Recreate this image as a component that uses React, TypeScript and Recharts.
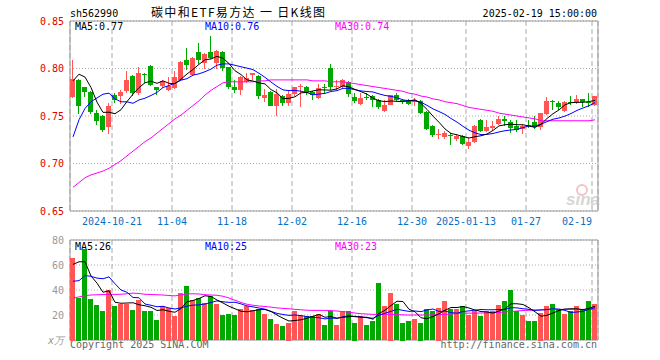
import React from 'react';
import { ComposedChart, Bar, Line, XAxis, YAxis, CartesianGrid, ReferenceArea } from 'recharts';

// daily candles, 88 sessions (2024-10-11 .. 2025-02-19)
const opens = [
  0.770, 0.788, 0.780, 0.775, 0.753, 0.750, 0.738, 0.772, 0.771, 0.776,
  0.792, 0.774, 0.794, 0.803, 0.780, 0.782, 0.777, 0.779, 0.788, 0.809,
  0.793, 0.817, 0.806, 0.817, 0.806, 0.817, 0.802, 0.781, 0.777, 0.786,
  0.793, 0.792, 0.769, 0.775, 0.761, 0.771, 0.764, 0.773, 0.781, 0.781,
  0.775, 0.769, 0.780, 0.800, 0.781, 0.780, 0.786, 0.770, 0.763, 0.770,
  0.771, 0.767, 0.755, 0.762, 0.772, 0.767, 0.766, 0.765, 0.766, 0.754,
  0.740, 0.730, 0.728, 0.730, 0.726, 0.729, 0.718, 0.723, 0.746, 0.734,
  0.737, 0.742, 0.747, 0.744, 0.740, 0.736, 0.741, 0.744, 0.738, 0.752,
  0.766, 0.764, 0.755, 0.765, 0.764, 0.768, 0.765, 0.762,
];
const highs = [
  0.809, 0.789, 0.781, 0.776, 0.756, 0.751, 0.764, 0.774, 0.777, 0.797,
  0.793, 0.802, 0.795, 0.804, 0.780, 0.788, 0.791, 0.797, 0.808, 0.822,
  0.812, 0.827, 0.816, 0.834, 0.819, 0.818, 0.802, 0.788, 0.792, 0.795,
  0.795, 0.793, 0.778, 0.776, 0.778, 0.772, 0.777, 0.781, 0.784, 0.782,
  0.776, 0.784, 0.784, 0.805, 0.788, 0.789, 0.787, 0.774, 0.774, 0.774,
  0.772, 0.768, 0.767, 0.772, 0.774, 0.768, 0.768, 0.769, 0.767, 0.755,
  0.741, 0.736, 0.734, 0.732, 0.731, 0.730, 0.728, 0.741, 0.747, 0.746,
  0.745, 0.750, 0.750, 0.746, 0.746, 0.742, 0.746, 0.750, 0.753, 0.770,
  0.767, 0.766, 0.766, 0.771, 0.772, 0.768, 0.774, 0.771,
];
const lows = [
  0.769, 0.752, 0.771, 0.752, 0.740, 0.733, 0.731, 0.764, 0.762, 0.774,
  0.771, 0.773, 0.784, 0.782, 0.772, 0.780, 0.776, 0.778, 0.788, 0.799,
  0.792, 0.805, 0.799, 0.810, 0.799, 0.797, 0.779, 0.774, 0.772, 0.784,
  0.788, 0.768, 0.764, 0.760, 0.750, 0.760, 0.760, 0.772, 0.760, 0.773,
  0.767, 0.768, 0.774, 0.778, 0.777, 0.778, 0.770, 0.764, 0.761, 0.767,
  0.759, 0.758, 0.754, 0.761, 0.766, 0.763, 0.762, 0.761, 0.752, 0.735,
  0.728, 0.725, 0.726, 0.719, 0.724, 0.720, 0.715, 0.722, 0.733, 0.733,
  0.735, 0.741, 0.739, 0.732, 0.733, 0.732, 0.738, 0.736, 0.735, 0.751,
  0.756, 0.757, 0.754, 0.762, 0.763, 0.760, 0.759, 0.761,
];
const closes = [
  0.789, 0.760, 0.775, 0.754, 0.745, 0.735, 0.761, 0.767, 0.775, 0.788,
  0.774, 0.795, 0.793, 0.783, 0.777, 0.787, 0.782, 0.791, 0.807, 0.804,
  0.811, 0.809, 0.815, 0.811, 0.818, 0.801, 0.781, 0.777, 0.791, 0.790,
  0.795, 0.771, 0.772, 0.761, 0.773, 0.764, 0.773, 0.780, 0.782, 0.775,
  0.772, 0.779, 0.779, 0.781, 0.782, 0.788, 0.773, 0.766, 0.769, 0.769,
  0.767, 0.759, 0.762, 0.772, 0.767, 0.766, 0.763, 0.767, 0.753, 0.736,
  0.730, 0.731, 0.732, 0.729, 0.729, 0.721, 0.723, 0.739, 0.734, 0.738,
  0.740, 0.747, 0.745, 0.737, 0.735, 0.740, 0.740, 0.738, 0.753, 0.766,
  0.765, 0.760, 0.765, 0.764, 0.768, 0.765, 0.764, 0.771,
];

const ma5 = [
  0.787, 0.794, 0.791, 0.780, 0.7646, 0.7538, 0.754, 0.7524, 0.7566, 0.7652,
  0.773, 0.7798, 0.785, 0.7866, 0.7844, 0.787, 0.7844, 0.784, 0.7888, 0.7942,
  0.799, 0.8044, 0.8092, 0.810, 0.8128, 0.8108, 0.8052, 0.7976, 0.7936, 0.788,
  0.7868, 0.7848, 0.7838, 0.7778, 0.7744, 0.7682, 0.7686, 0.7702, 0.7744, 0.7748,
  0.7764, 0.7776, 0.7774, 0.7772, 0.7786, 0.7818, 0.7806, 0.778, 0.7756, 0.773,
  0.7688, 0.766, 0.7652, 0.7658, 0.7654, 0.7652, 0.766, 0.767, 0.7632, 0.757,
  0.7498, 0.7434, 0.7364, 0.7316, 0.7302, 0.7284, 0.7268, 0.7282, 0.7292, 0.731,
  0.7348, 0.7396, 0.7408, 0.7414, 0.7408, 0.7408, 0.7394, 0.738, 0.7412, 0.7474,
  0.7524, 0.7564, 0.7618, 0.764, 0.7644, 0.7644, 0.7652, 0.7664,
];
const ma10 = [
  0.728, 0.746, 0.758, 0.765, 0.769, 0.773, 0.774, 0.768, 0.765, 0.7649,
  0.7634, 0.7669, 0.7687, 0.7716, 0.7748, 0.780, 0.7821, 0.7845, 0.7877, 0.7893,
  0.793, 0.7944, 0.7966, 0.7994, 0.8035, 0.8049, 0.8048, 0.8034, 0.8018, 0.8004,
  0.7988, 0.795, 0.7907, 0.7857, 0.7812, 0.7775, 0.7767, 0.777, 0.7761, 0.7746,
  0.7723, 0.7731, 0.7738, 0.7758, 0.7767, 0.7791, 0.7791, 0.7777, 0.7764, 0.7758,
  0.7753, 0.7733, 0.7716, 0.7707, 0.7692, 0.767, 0.766, 0.7661, 0.7645, 0.7612,
  0.7575, 0.7547, 0.7517, 0.7474, 0.7436, 0.7391, 0.7351, 0.7323, 0.7304, 0.7306,
  0.7316, 0.7332, 0.7345, 0.7353, 0.7359, 0.7378, 0.7395, 0.7394, 0.7413, 0.7441,
  0.7466, 0.7479, 0.7499, 0.7526, 0.7559, 0.7584, 0.7608, 0.7641,
];
const ma30 = [
  0.675, 0.680, 0.685, 0.688, 0.690, 0.692, 0.695, 0.699, 0.703, 0.708,
  0.713, 0.718, 0.723, 0.727, 0.732, 0.737, 0.742, 0.747, 0.751, 0.756,
  0.761, 0.766, 0.772, 0.777, 0.781, 0.785, 0.786, 0.786, 0.786, 0.786,
  0.786, 0.787, 0.787, 0.788, 0.788, 0.788, 0.788, 0.788, 0.788, 0.788,
  0.787, 0.787, 0.787, 0.786, 0.786, 0.786, 0.785, 0.784, 0.783, 0.782,
  0.781, 0.780, 0.779, 0.778, 0.777, 0.776, 0.774, 0.773, 0.771, 0.770,
  0.768, 0.767, 0.765, 0.764, 0.763, 0.761, 0.759, 0.758, 0.757, 0.756,
  0.755, 0.753, 0.752, 0.751, 0.750, 0.749, 0.748, 0.747, 0.745, 0.745,
  0.745, 0.745, 0.745, 0.745, 0.745, 0.745, 0.745, 0.746,
];

// volume, 万手
const volumes = [
  66, 34, 73, 33, 28, 23, 40, 27, 29, 29,
  24, 32, 23, 23, 16, 27, 26, 19, 38, 43,
  32, 34, 30, 35, 29, 20, 21, 20, 25, 27,
  24, 25, 21, 17, 13, 11, 14, 23, 20, 19,
  19, 21, 12, 23, 12, 23, 23, 14, 19, 12,
  15, 46, 27, 38, 29, 14, 15, 17, 14, 25,
  23, 26, 31, 25, 25, 27, 20, 23, 19, 23,
  23, 28, 31, 40, 23, 20, 15, 15, 22, 27,
  29, 25, 21, 23, 27, 25, 31, 29,
];
const volMa5 = [
  60.5, 62.6, 62.6, 51.2, 45.5, 38.2, 39.4, 30.2, 29.4, 29.6,
  29.8, 28.2, 27.4, 26.2, 23.6, 24.2, 23, 22.2, 25.2, 30.6,
  31.6, 33.2, 35.4, 34.8, 32, 29.6, 27, 25, 23, 22.6,
  23.4, 24.2, 24.4, 22.8, 20, 17.4, 15.2, 15.6, 16.2, 17.4,
  19, 20.4, 18.2, 18.8, 17.4, 18.2, 18.6, 19, 18.2, 18.2,
  16.6, 21.2, 23.8, 27.6, 31, 30.8, 24.6, 22.6, 17.8, 17,
  18.8, 21, 23.8, 26, 26, 26.8, 25.6, 24, 22.8, 22.4,
  21.6, 23.2, 24.8, 29, 29, 28.4, 25.8, 22.6, 19, 19.8,
  21.6, 23.6, 24.8, 25, 25, 24.2, 25.4, 27,
];
const volMa10 = [
  47, 47.5, 51.5, 51, 49.5, 49, 50.5, 45, 40, 38.2,
  34, 33.8, 28.8, 27.8, 26.6, 27, 25.6, 24.8, 25.7, 27.1,
  27.9, 28.1, 28.8, 30, 31.3, 30.6, 30.1, 30.2, 28.9, 27.3,
  26.5, 25.6, 24.7, 22.9, 21.3, 20.4, 19.7, 20, 19.5, 18.7,
  18.2, 17.8, 16.9, 17.5, 17.4, 18.6, 19.5, 18.6, 18.5, 17.8,
  17.4, 19.9, 21.4, 22.9, 24.6, 23.7, 22.9, 23.2, 22.7, 24,
  24.8, 22.8, 23.2, 21.9, 21.5, 22.8, 23.3, 23.9, 24.4, 24.2,
  24.2, 24.4, 24.4, 25.9, 25.7, 25, 24.5, 23.7, 24, 24.4,
  25, 24.7, 23.7, 22, 22.4, 22.9, 24.5, 25.9,
];
const volMa30 = [
  33.5, 34.5, 35.5, 36, 36.2, 36.4, 36.5, 36.5, 36.6, 37,
  37.5, 37.2, 36.6, 36.4, 36.2, 36, 35.6, 35.3, 36.2, 36.8,
  37, 36.8, 36.2, 36, 35.8, 35, 33.6, 31.8, 30, 28.6,
  27.8, 27.2, 26.8, 26.3, 25.7, 25.3, 25, 24.5, 24.2, 23.8,
  23.7, 23.7, 23.7, 23.5, 23.2, 22.7, 22.2, 21.6, 21, 20.8,
  20.5, 20.5, 20.5, 20.5, 20.3, 20.1, 20, 20, 20, 20,
  20.1, 20.3, 20.5, 20.8, 21.2, 21.4, 21.5, 21.5, 21.6, 21.6,
  21.8, 22.1, 22.4, 22.8, 23.2, 23.6, 23.8, 24, 24.2, 24.3,
  24.4, 24.5, 24.5, 24.5, 24.5, 24.5, 24.5, 24.5,
];

const tickSlots = [7, 17, 27, 37, 47, 57, 66, 76, 87];
const tickLabels = ['2024-10-21', '11-04', '11-18', '12-02', '12-16', '12-30', '2025-01-13', '01-27', '02-19'];
const priceTicks = [0.65, 0.7, 0.75, 0.8, 0.85];
const volTicks = [0, 20, 40, 60, 80];

const UP = '#ff5555';
const DOWN = '#00a800';
const MONO = '"DejaVu Sans Mono", "Liberation Mono", monospace';
const GRID = '#aaaaaa';
const BORDER = '#999999';

const rows = closes.map((c, i) => ({
  x: i + 0.5,
  range: [lows[i], highs[i]],
  open: opens[i],
  high: highs[i],
  low: lows[i],
  close: c,
  volume: volumes[i],
  ma5: ma5[i],
  ma10: ma10[i],
  ma30: ma30[i],
  vma5: volMa5[i],
  vma10: volMa10[i],
  vma30: volMa30[i],
}));

function Candle(props: any) {
  const { x, y, height, payload } = props;
  const { open, close, high, low } = payload;
  const color = close >= open ? UP : DOWN;
  const top = Math.min(y, y + height);
  const h = Math.abs(height);
  const left = Math.floor(x);
  const py = (v: number) => (high === low ? top : top + ((high - v) / (high - low)) * h);
  const bTop = Math.round(py(Math.max(open, close)));
  const bBot = Math.round(py(Math.min(open, close)));
  return (
    <g>
      <rect x={left + 2} y={Math.round(top)} width={1} height={Math.max(1, Math.round(h))} fill={color} />
      <rect x={left} y={bTop} width={5} height={Math.max(1, bBot - bTop)} fill={color} />
    </g>
  );
}

function VolBar(props: any) {
  const { x, y, height, payload } = props;
  const color = payload.close >= payload.open ? UP : DOWN;
  const top = Math.min(y, y + height);
  return <rect x={Math.floor(x)} y={Math.round(top)} width={5} height={Math.round(Math.abs(height))} fill={color} />;
}

function DateTick(props: any) {
  const { x, y, payload } = props;
  const k = tickSlots.indexOf(payload.value);
  const last = k === tickSlots.length - 1;
  return (
    <text x={x} y={y} dy={7} textAnchor={last ? 'end' : 'middle'} fill="#0a70c4" fontSize={10} fontFamily={MONO}>
      {tickLabels[k]}
    </text>
  );
}

function VolTick(props: any) {
  const { x, y, payload } = props;
  const zero = payload.value === 0;
  return (
    <text x={x} y={y} dy={3.5} textAnchor="end" fill="#999" fontSize={10} fontFamily={MONO} fontStyle={zero ? 'italic' : 'normal'}>
      {zero ? 'x万' : payload.value}
    </text>
  );
}

export default function App() {
  return (
    <div style={{ position: 'absolute', left: 0, top: 0, width: 660, height: 360, background: '#fff' }}>
      <div style={{ position: 'absolute', left: 0, top: 0 }}>
        <ComposedChart width={660} height={230} data={rows} margin={{ top: 21, right: 62, bottom: 0, left: 0 }}>
          <CartesianGrid vertical={false} stroke={GRID} strokeDasharray="1 2" />
          <CartesianGrid horizontal={false} stroke={GRID} strokeDasharray="5 3" />
          <XAxis
            type="number"
            dataKey="x"
            domain={[0, 88]}
            ticks={tickSlots}
            interval={0}
            tick={<DateTick />}
            axisLine={false}
            tickLine={false}
            tickSize={4}
            tickMargin={3}
            height={19}
          />
          <YAxis
            domain={[0.65, 0.85]}
            ticks={priceTicks}
            width={70}
            axisLine={false}
            tickLine={false}
            tickSize={4}
            tickMargin={2}
            tickFormatter={(v: number) => v.toFixed(2)}
            tick={{ fill: '#e00000', fontSize: 10, fontFamily: MONO }}
          />
          <Bar dataKey="range" barSize={5} shape={<Candle />} isAnimationActive={false} />
          <Line dataKey="ma30" stroke="#ff00ff" strokeWidth={1} dot={false} isAnimationActive={false} />
          <Line dataKey="ma10" stroke="#0000ff" strokeWidth={1} dot={false} isAnimationActive={false} />
          <Line dataKey="ma5" stroke="#000000" strokeWidth={1} dot={false} isAnimationActive={false} />
          <ReferenceArea x1={0} x2={88} y1={0.65} y2={0.85} fill="none" stroke={BORDER} strokeWidth={1} ifOverflow="visible" />
          <text x={70} y={17} fontSize={10} fontFamily={MONO} fill="#000">sh562990</text>
          <text x={151} y={17} fontSize={12} fontFamily='"Noto Sans CJK SC", sans-serif' fill="#000" textLength={174} lengthAdjust="spacing">
            碳中和ETF易方达 一 日K线图
          </text>
          <text x={597} y={17} fontSize={10} fontFamily={MONO} fill="#000" textAnchor="end">2025-02-19 15:00:00</text>
          <text x={75} y={30} fontSize={10} fontFamily={MONO} fill="#000">MA5:0.77</text>
          <text x={205} y={30} fontSize={10} fontFamily={MONO} fill="#0000ff">MA10:0.76</text>
          <text x={335} y={30} fontSize={10} fontFamily={MONO} fill="#ff00ff">MA30:0.74</text>
          <circle cx={582} cy={190} r={5} fill="none" stroke="#f2c4c4" strokeWidth={2} />
          <text x={566} y={205} fontSize={17} fontStyle="italic" fontWeight="bold" fontFamily="Arial, sans-serif" fill="#d6d6d6">sina</text>
        </ComposedChart>
      </div>
      <div style={{ position: 'absolute', left: 0, top: 230 }}>
        <ComposedChart width={660} height={130} data={rows} margin={{ top: 10, right: 62, bottom: 20, left: 0 }}>
          <CartesianGrid vertical={false} stroke={GRID} strokeDasharray="1 2" />
          <CartesianGrid horizontal={false} stroke={GRID} strokeDasharray="5 3" />
          <XAxis type="number" dataKey="x" domain={[0, 88]} ticks={tickSlots} interval={0} hide />
          <YAxis
            domain={[0, 80]}
            ticks={volTicks}
            width={70}
            axisLine={false}
            tickLine={false}
            tickSize={4}
            tickMargin={2}
            tick={<VolTick />}
          />
          <Bar dataKey="volume" barSize={5} shape={<VolBar />} isAnimationActive={false} />
          <Line dataKey="vma30" stroke="#ff00ff" strokeWidth={1} dot={false} isAnimationActive={false} />
          <Line dataKey="vma10" stroke="#0000ff" strokeWidth={1} dot={false} isAnimationActive={false} />
          <Line dataKey="vma5" stroke="#000000" strokeWidth={1} dot={false} isAnimationActive={false} />
          <ReferenceArea x1={0} x2={88} y1={0} y2={80} fill="none" stroke={BORDER} strokeWidth={1} ifOverflow="visible" />
          <text x={75} y={20} fontSize={10} fontFamily={MONO} fill="#000">MA5:26</text>
          <text x={205} y={20} fontSize={10} fontFamily={MONO} fill="#0000ff">MA10:25</text>
          <text x={335} y={20} fontSize={10} fontFamily={MONO} fill="#ff00ff">MA30:23</text>
          <text x={70} y={118} fontSize={10} fontFamily={MONO} fill="#666">Copyright 2025 SINA.COM</text>
          <text x={597} y={118} fontSize={10} fontFamily={MONO} fill="#666" textAnchor="end">http://finance.sina.com.cn</text>
        </ComposedChart>
      </div>
    </div>
  );
}
